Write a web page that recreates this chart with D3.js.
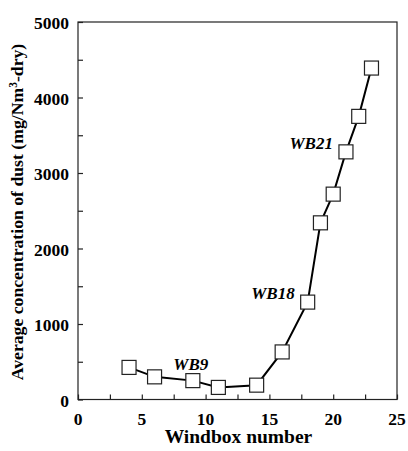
<!DOCTYPE html>
<html>
<head>
<meta charset="utf-8">
<script src="https://cdn.jsdelivr.net/npm/d3@7"></script>
<style>
  body { margin: 0; background: #fff; }
  text { font-family: "Liberation Serif", "Times New Roman", serif; font-weight: bold; }
</style>
</head>
<body>
<div id="chart"></div>
<script>
// windbox numbers and dust concentration (mg/Nm3-dry)
var windbox = [4, 6, 9, 11, 14, 16, 18, 19, 20, 21, 22, 23];
var dust = [425, 300, 250, 160, 190, 630, 1290, 2340, 2720, 3280, 3750, 4390];
var xTicks = [0, 5, 10, 15, 20, 25];
var yTicks = [0, 1000, 2000, 3000, 4000, 5000];
var notes = ["WB9", "WB18", "WB21"];
var noteBox = [9, 18, 21];

var width = 408, height = 451;
var margin = {top: 22, right: 11, bottom: 51.5, left: 78};
var innerWidth = width - margin.left - margin.right,
    innerHeight = height - margin.top - margin.bottom;

var svg = d3.select("#chart").append("svg")
    .attr("width", width)
    .attr("height", height);

var g = svg.append("g")
    .attr("transform", "translate(" + margin.left + "," + margin.top + ")");

var xScale = d3.scaleLinear().domain([0, 25]).range([0, innerWidth]);
var yScale = d3.scaleLinear().domain([0, 5000]).range([innerHeight, 0]);

// frame
g.append("rect")
    .attr("x", 0).attr("y", 0)
    .attr("width", innerWidth).attr("height", innerHeight)
    .attr("fill", "none")
    .attr("stroke", "#222")
    .attr("stroke-width", 1.2);

// minor + major ticks point inward
var xAxis = g.append("g")
    .attr("transform", "translate(0," + innerHeight + ")")
    .call(d3.axisBottom(xScale).tickValues(d3.range(0, 25.1, 2.5)).tickSize(-5).tickFormat(""));
var yAxis = g.append("g")
    .call(d3.axisLeft(yScale).tickValues(d3.range(0, 5001, 500)).tickSize(-5).tickFormat(""));
[xAxis, yAxis].forEach(function (a) {
    a.select(".domain").remove();
    a.selectAll("line").attr("stroke", "#222").attr("stroke-width", 1.2);
});

g.selectAll(".xlab")
    .data(xTicks)
    .enter().append("text")
    .attr("class", "xlab")
    .attr("x", function (d) { return xScale(d); })
    .attr("y", innerHeight + 25.5)
    .attr("text-anchor", "middle")
    .attr("font-size", 17.5)
    .text(function (d) { return d; });

g.selectAll(".ylab")
    .data(yTicks)
    .enter().append("text")
    .attr("class", "ylab")
    .attr("x", -9)
    .attr("y", function (d) { return yScale(d) + 7; })
    .attr("text-anchor", "end")
    .attr("font-size", 17.5)
    .text(function (d) { return d; });

g.append("text")
    .attr("x", innerWidth / 2 + 1)
    .attr("y", innerHeight + 43.5)
    .attr("text-anchor", "middle")
    .attr("font-size", 19.5)
    .text("Windbox number");

var yTitle = g.append("text")
    .attr("transform", "translate(-55,190) rotate(-90)")
    .attr("text-anchor", "middle")
    .attr("font-size", 17.7);
yTitle.append("tspan").text("Average concentration of dust (mg/Nm");
yTitle.append("tspan").attr("font-size", 11.5).attr("dy", -6).text("3");
yTitle.append("tspan").attr("dy", 6).text("-dry)");

var points = windbox.map(function (w, i) { return [w, dust[i]]; });

g.append("path")
    .datum(points)
    .attr("fill", "none")
    .attr("stroke", "#000")
    .attr("stroke-width", 2)
    .attr("d", d3.line()
        .x(function (d) { return xScale(d[0]); })
        .y(function (d) { return yScale(d[1]); }));

var s = 14;
g.selectAll(".pt")
    .data(points)
    .enter().append("rect")
    .attr("class", "pt")
    .attr("x", function (d) { return xScale(d[0]) - s / 2; })
    .attr("y", function (d) { return yScale(d[1]) - s / 2; })
    .attr("width", s).attr("height", s)
    .attr("fill", "#fff")
    .attr("stroke", "#222")
    .attr("stroke-width", 1.2);

// annotations attached to their windbox point
notes.forEach(function (t, i) {
    var w = noteBox[i], v = dust[windbox.indexOf(w)];
    var first = i === 0;
    g.append("text")
        .attr("x", xScale(w) + (first ? -2 : -13))
        .attr("y", yScale(v) + (first ? -11 : -3))
        .attr("text-anchor", first ? "middle" : "end")
        .attr("font-size", 17)
        .attr("font-style", "italic")
        .text(t);
});
</script>
</body>
</html>
